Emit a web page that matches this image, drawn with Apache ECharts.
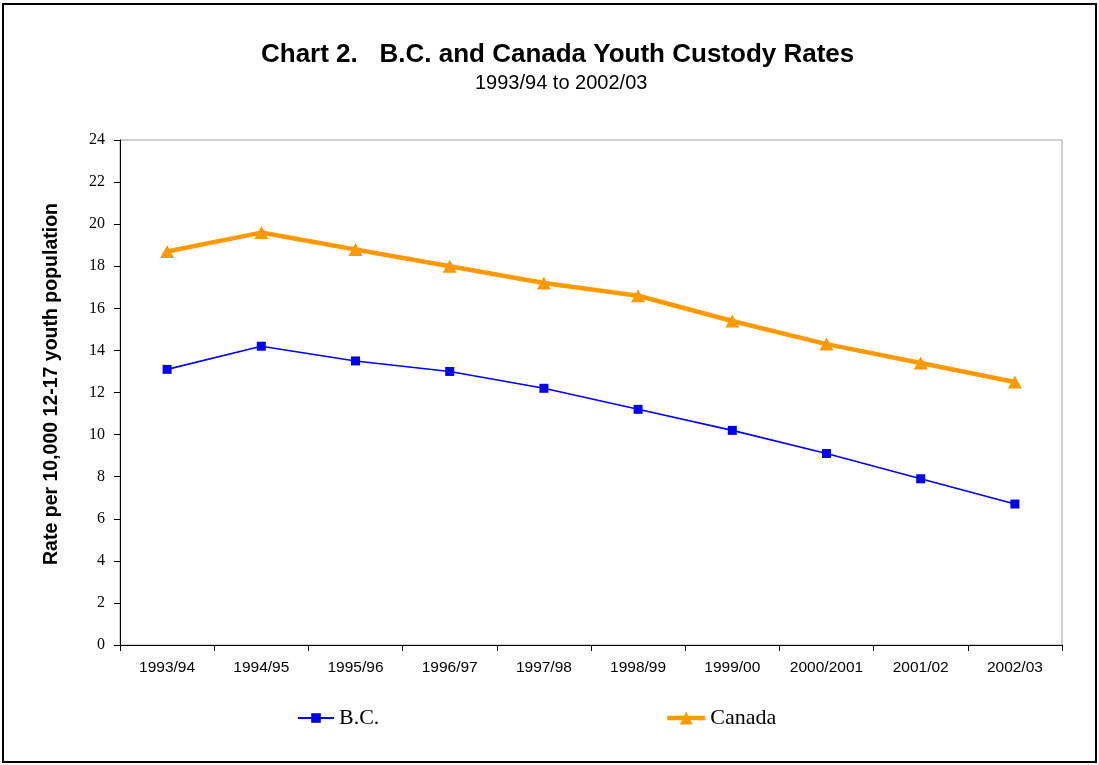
<!DOCTYPE html>
<html>
<head>
<meta charset="utf-8">
<script src="https://cdn.jsdelivr.net/npm/echarts@6/dist/echarts.min.js"></script>
<style>
html, body { margin: 0; padding: 0; background: #fff; }
#chart { width: 1099px; height: 765px; }
</style>
</head>
<body>
<div id="chart"></div>
<script>
// data
var years = ['1993/94', '1994/95', '1995/96', '1996/97', '1997/98', '1998/99', '1999/00', '2000/2001', '2001/02', '2002/03'];
var bcRates = [13.1, 14.2, 13.5, 13.0, 12.2, 11.2, 10.2, 9.1, 7.9, 6.7];
var canadaRates = [18.7, 19.6, 18.8, 18.0, 17.2, 16.6, 15.4, 14.3, 13.4, 12.5];
var yTicks = [0, 24, 2]; // min, max, step

var chart = echarts.init(document.getElementById('chart'));

var sans = 'Liberation Sans, Arial';
var serif = 'Liberation Serif, Times New Roman';

var option = {
	backgroundColor: '#fff',
	animation: false,
	// outer frame
	graphic: [{
		type: 'rect',
		shape: { x: 3, y: 4, width: 1093, height: 758 },
		style: { fill: 'none', stroke: '#000', lineWidth: 2 },
		silent: true
	}],
	title: [{
		text: 'Chart 2.   B.C. and Canada Youth Custody Rates',
		left: 261,
		top: 42,
		padding: 0,
		textStyle: { fontFamily: sans, fontWeight: 'bold', fontSize: 26, color: '#000' }
	}, {
		text: '1993/94 to 2002/03',
		left: 475,
		top: 73,
		padding: 0,
		textStyle: { fontFamily: sans, fontWeight: 'normal', fontSize: 20, color: '#000' }
	}],
	legend: [{
		data: ['B.C.'],
		left: 292,
		top: 702,
		itemWidth: 36,
		itemHeight: 12,
		itemGap: 5,
		lineStyle: { width: 2 },
		textStyle: { fontFamily: serif, fontSize: 22, color: '#000' }
	}, {
		data: ['Canada'],
		left: 660,
		top: 702,
		itemWidth: 38,
		itemHeight: 16,
		lineStyle: { width: 4.5 },
		textStyle: { fontFamily: serif, fontSize: 22, color: '#000' }
	}],
	grid: {
		left: 120,
		right: 37,
		top: 140,
		bottom: 120,
		show: true,
		borderColor: '#a0a0a0',
		borderWidth: 1,
		backgroundColor: '#fff'
	},
	xAxis: {
		type: 'category',
		data: years,
		boundaryGap: true,
		axisLine: { lineStyle: { color: '#000', width: 1 } },
		axisTick: { show: true, interval: 0, alignWithLabel: false, length: 6, lineStyle: { color: '#000' } },
		axisLabel: { interval: 0, hideOverlap: false, fontFamily: sans, fontSize: 15.5, color: '#000', margin: 15 },
		splitLine: { show: false }
	},
	yAxis: {
		type: 'value',
		min: yTicks[0],
		max: yTicks[1],
		interval: yTicks[2],
		name: 'Rate per 10,000 12-17 youth population',
		nameLocation: 'middle',
		nameGap: 58,
		nameTextStyle: { fontFamily: sans, fontWeight: 'bold', fontSize: 19.5, color: '#000', padding: [0, 0, 0, 17] },
		axisLine: { show: true, lineStyle: { color: '#000', width: 1 } },
		axisTick: { show: true, length: 6, lineStyle: { color: '#000' } },
		axisLabel: { fontFamily: serif, fontSize: 16, color: '#000', margin: 15 },
		splitLine: { show: false }
	},
	series: [{
		name: 'B.C.',
		type: 'line',
		data: bcRates,
		symbol: 'rect',
		symbolSize: 9,
		itemStyle: { color: '#0000ff' },
		lineStyle: { color: '#0000ff', width: 1.6 },
		z: 3
	}, {
		name: 'Canada',
		type: 'line',
		data: canadaRates,
		symbol: 'triangle',
		symbolSize: [14, 13],
		itemStyle: { color: '#ff9900' },
		lineStyle: { color: '#ff9900', width: 4.5 },
		z: 4
	}]
};

chart.setOption(option);
</script>
</body>
</html>
